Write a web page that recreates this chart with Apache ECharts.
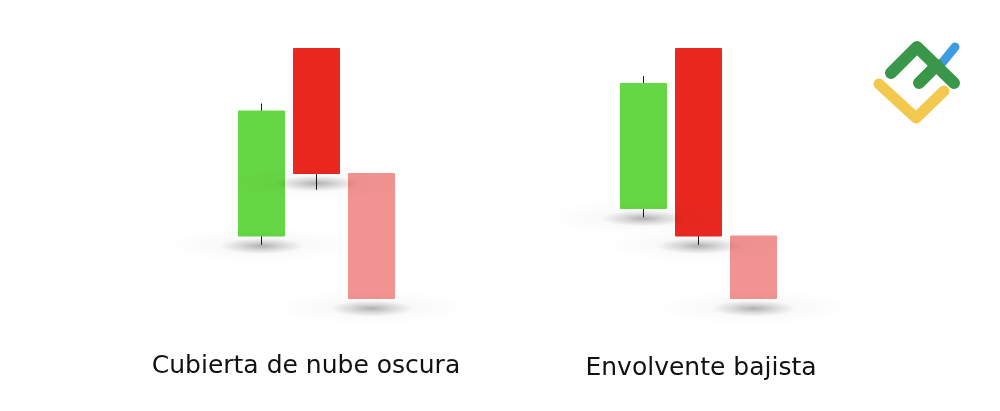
<!DOCTYPE html>
<html>
<head>
<meta charset="utf-8">
<script src="https://cdn.jsdelivr.net/npm/echarts@6/dist/echarts.min.js"></script>
<style>
html,body{margin:0;padding:0;background:#fff;}
#c{width:1000px;height:411px;}
</style>
</head>
<body>
<div id="c"></div>
<script>
// Candle order in each pattern: bullish, bearish, next (faded)
const categories = ['1', '2', '3'];
const candleColors = ['#66D744', '#EA2820', '#F29391'];

// Cubierta de nube oscura
const cloudOpen  = [5, 20, 10];
const cloudClose = [15, 10, 0];
const cloudLow   = [4.3, 8.7, 0];
const cloudHigh  = [15.6, 20, 10];

// Envolvente bajista
const engulfOpen  = [7.2, 20, 5];
const engulfClose = [17.2, 5, 0];
const engulfLow   = [6.5, 4.3, 0];
const engulfHigh  = [17.8, 20, 5];

const titles = ['Cubierta de nube oscura', 'Envolvente bajista'];

function bodyData(o, c) {
  return o.map((v, i) => {
    const col = candleColors[i];
    return {
      value: [v, c[i], Math.min(v, c[i]), Math.max(v, c[i])],
      itemStyle: { color: col, color0: col, borderColor: col, borderColor0: col, borderWidth: 1 }
    };
  });
}
function wickData(o, c, l, h) {
  return o.map((v, i) => [v, c[i], l[i], h[i]]);
}
function shadowData(o, c) {
  return o.map((v, i) => [i, Math.min(v, c[i])]);
}

function makeShadow(r, sy, dy, a0, a1) {
  return function (params, api) {
    const p = api.coord([api.value(0), api.value(1)]);
    return {
      type: 'circle',
      x: p[0],
      y: p[1] + dy,
      scaleY: sy,
      shape: { cx: 0, cy: 0, r: r },
      style: {
        fill: new echarts.graphic.RadialGradient(0.5, 0.5, 0.5, [
          { offset: 0, color: 'rgba(0,0,0,' + a0 + ')' },
          { offset: 0.5, color: 'rgba(0,0,0,' + a1 + ')' },
          { offset: 1, color: 'rgba(0,0,0,0)' }
        ])
      },
      silent: true
    };
  };
}

const grids = [
  { left: 234, width: 165, top: 48.5, height: 250 },
  { left: 616, width: 165, top: 48.5, height: 250 }
];

const sets = [
  [cloudOpen, cloudClose, cloudLow, cloudHigh],
  [engulfOpen, engulfClose, engulfLow, engulfHigh]
];

const series = [];
sets.forEach((s, g) => {
  series.push({
    type: 'custom', xAxisIndex: g, yAxisIndex: g, z: 4,
    renderItem: makeShadow(100, 0.18, 9, 0.045, 0.02), data: shadowData(s[0], s[1]),
    encode: { x: 0, y: 1 }, clip: false
  });
  series.push({
    type: 'custom', xAxisIndex: g, yAxisIndex: g, z: 5,
    renderItem: makeShadow(42, 0.19, 10, 0.28, 0.12), data: shadowData(s[0], s[1]),
    encode: { x: 0, y: 1 }, clip: false
  });
  series.push({
    type: 'candlestick', xAxisIndex: g, yAxisIndex: g, z: 2,
    barWidth: 1,
    itemStyle: { color: '#1a1a1a', color0: '#1a1a1a', borderColor: '#1a1a1a', borderColor0: '#1a1a1a', borderWidth: 1 },
    data: wickData(s[0], s[1], s[2], s[3])
  });
  series.push({
    type: 'candlestick', xAxisIndex: g, yAxisIndex: g, z: 3,
    barWidth: 47,
    data: bodyData(s[0], s[1])
  });
});

const chart = echarts.init(document.getElementById('c'));
chart.setOption({
  animation: false,
  backgroundColor: '#ffffff',
  grid: grids,
  xAxis: grids.map((_, i) => ({ type: 'category', gridIndex: i, data: categories, boundaryGap: true, show: false })),
  yAxis: grids.map((_, i) => ({ type: 'value', gridIndex: i, min: 0, max: 20, show: false })),
  series: series,
  graphic: [
    { type: 'text', x: 306, y: 366, z: 10, style: { text: titles[0], font: '25px "DejaVu Sans"', fill: '#111', textAlign: 'center', textVerticalAlign: 'middle' } },
    { type: 'text', x: 701, y: 368, z: 10, style: { text: titles[1], font: '25px "DejaVu Sans"', fill: '#111', textAlign: 'center', textVerticalAlign: 'middle' } },
    { type: 'polyline', z: 10, shape: { points: [[942, 63], [955, 47]] }, style: { stroke: '#3E9CE0', lineWidth: 9, lineCap: 'round', fill: null } },
    { type: 'polyline', z: 10, shape: { points: [[879, 84], [916, 118], [944, 91]] }, style: { stroke: '#F2C94E', lineWidth: 11, lineCap: 'round', lineJoin: 'round', fill: null } },
    { type: 'polyline', z: 10, shape: { points: [[891, 73], [917, 47], [954, 83]] }, style: { stroke: '#3A9648', lineWidth: 12, lineCap: 'round', lineJoin: 'round', fill: null } },
    { type: 'polyline', z: 10, shape: { points: [[919, 83], [937, 65]] }, style: { stroke: '#3A9648', lineWidth: 12, lineCap: 'round', fill: null } }
  ]
});
</script>
</body>
</html>
